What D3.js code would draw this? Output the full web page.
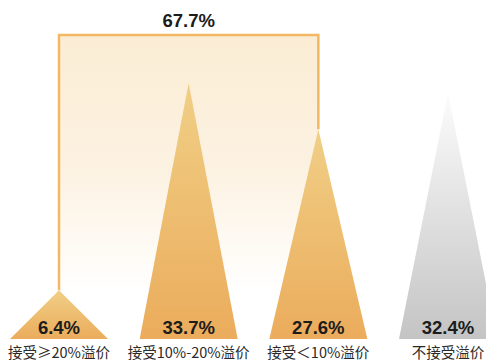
<!DOCTYPE html>
<html>
<head>
<meta charset="utf-8">
<script src="https://cdn.jsdelivr.net/npm/d3@7"></script>
<style>
  html, body { margin: 0; padding: 0; background: #fff; }
  svg { display: block; }
</style>
</head>
<body>
<svg id="chart" width="486" height="361"></svg>
<script>
// Share of respondents by accepted price premium
const categories = ["接受≥20%溢价", "接受10%-20%溢价", "接受＜10%溢价", "不接受溢价"];
const values = [6.4, 33.7, 27.6, 32.4];
// The first three groups are bracketed together and their total shown on top
const bracketGroups = [0, 1, 2];
const bracketLevel = 40; // value at which the bracket's top edge sits

const width = 486, height = 361;
const baseY = 339;
const halfBase = 49;

const svg = d3.select("#chart");
const defs = svg.append("defs");

const x = d3.scalePoint().domain(categories).range([59, 448]);
const y = d3.scaleLinear().domain([0, bracketLevel]).range([baseY, 35]);

// Gradients
const warm = defs.append("linearGradient")
  .attr("id", "warm").attr("x1", 0).attr("y1", 0).attr("x2", 0).attr("y2", 1);
warm.append("stop").attr("offset", "0%").attr("stop-color", "#F0CF86");
warm.append("stop").attr("offset", "100%").attr("stop-color", "#EBAC5C");

const grey = defs.append("linearGradient")
  .attr("id", "grey").attr("x1", 0).attr("y1", 0).attr("x2", 0).attr("y2", 1);
grey.append("stop").attr("offset", "0%").attr("stop-color", "#FCFCFC");
grey.append("stop").attr("offset", "100%").attr("stop-color", "#C4C4C4");

const haze = defs.append("linearGradient")
  .attr("id", "haze").attr("x1", 0).attr("y1", 0).attr("x2", 0).attr("y2", 1);
haze.append("stop").attr("offset", "0%").attr("stop-color", "#FBEDD4");
haze.append("stop").attr("offset", "45%").attr("stop-color", "#FCF2E2");
haze.append("stop").attr("offset", "85%").attr("stop-color", "#FFFFFF");

// Bracket over the accepting groups
const first = categories[bracketGroups[0]];
const last = categories[bracketGroups[bracketGroups.length - 1]];
const total = d3.sum(bracketGroups, i => values[i]);

svg.append("rect")
  .attr("x", x(first))
  .attr("y", y(bracketLevel))
  .attr("width", x(last) - x(first))
  .attr("height", y(0) - y(bracketLevel))
  .attr("fill", "url(#haze)");

const bracket = d3.path();
bracket.moveTo(x(first), y(values[bracketGroups[0]]));
bracket.lineTo(x(first), y(bracketLevel));
bracket.lineTo(x(last), y(bracketLevel));
bracket.lineTo(x(last), y(values[bracketGroups[bracketGroups.length - 1]]));

svg.append("path")
  .attr("d", bracket.toString())
  .attr("fill", "none")
  .attr("stroke", "#F2B862")
  .attr("stroke-width", 2.5)
  .attr("stroke-linejoin", "miter");

svg.append("text")
  .attr("x", (x(first) + x(last)) / 2)
  .attr("y", 27)
  .attr("text-anchor", "middle")
  .attr("font-family", "'Liberation Sans', Arial, sans-serif")
  .attr("font-weight", "bold")
  .attr("font-size", 18.5)
  .attr("fill", "#1c1c1c")
  .text(d3.format(".1f")(total) + "%");

// Triangles
const data = categories.map((c, i) => ({ c, v: values[i], accepted: bracketGroups.includes(i) }));

svg.append("g").selectAll("path")
  .data(data)
  .join("path")
  .attr("d", d => {
    const p = d3.path();
    p.moveTo(x(d.c) - halfBase, y(0));
    p.lineTo(x(d.c), y(d.v));
    p.lineTo(x(d.c) + halfBase, y(0));
    p.closePath();
    return p.toString();
  })
  .attr("fill", d => d.accepted ? "url(#warm)" : "url(#grey)");

// Value labels
svg.append("g").selectAll("text")
  .data(data)
  .join("text")
  .attr("x", d => x(d.c))
  .attr("y", 334)
  .attr("text-anchor", "middle")
  .attr("font-family", "'Liberation Sans', Arial, sans-serif")
  .attr("font-weight", "bold")
  .attr("font-size", 18.5)
  .attr("fill", "#1c1c1c")
  .text(d => d3.format(".1f")(d.v) + "%");

// Category labels
svg.append("g").selectAll("text")
  .data(data)
  .join("text")
  .attr("x", d => x(d.c))
  .attr("y", 358)
  .attr("text-anchor", "middle")
  .attr("font-family", "'Noto Sans CJK SC', 'Noto Sans', sans-serif")
  .attr("font-size", 14.5)
  .attr("fill", "#2a2a2a")
  .text(d => d.c);
</script>
</body>
</html>
